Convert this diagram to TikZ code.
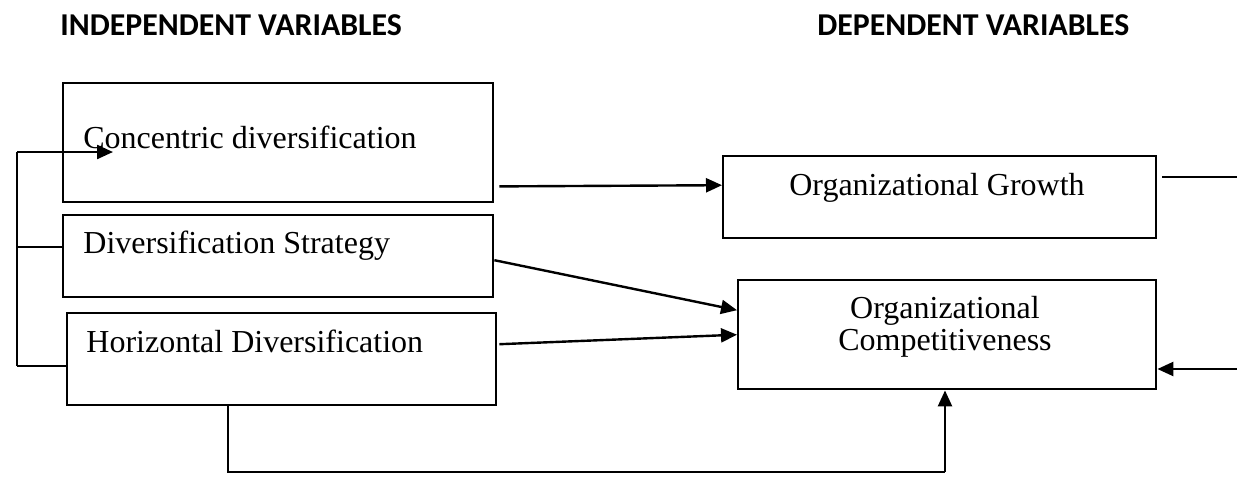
\documentclass[tikz,border=0pt]{standalone}
\usepackage{fontspec}
\setmainfont{Liberation Serif}
\newfontfamily\headfont{Carlito}
\usetikzlibrary{arrows.meta}
\tikzset{
  varbox/.style={draw,line width=1.2pt,anchor=north west,inner sep=0pt},
  boxtext/.style={font=\fontsize{16}{15.5}\selectfont,inner sep=0pt},
  headtext/.style={font=\headfont\bfseries\fontsize{15.9}{18}\selectfont,anchor=west,inner sep=0pt},
  arr/.style={line width=1.2pt,-{Triangle[length=8pt,width=7pt]}},
  link/.style={line width=1.2pt}
}
\begin{document}
\begin{tikzpicture}[x=0.5pt,y=-0.5pt]
  \useasboundingbox (0,0) rectangle (1237,477);
  % headings
  \node[headtext] (indep) at (60,25) {INDEPENDENT VARIABLES};
  \node[headtext] (dep) at (817,25) {DEPENDENT VARIABLES};
  % boxes
  \node[varbox,minimum width=215pt,minimum height=59.5pt] (conc) at (62,82) {};
  \node[varbox,minimum width=215pt,minimum height=41pt] (strat) at (62,214) {};
  \node[varbox,minimum width=214.5pt,minimum height=46pt] (horiz) at (66,312) {};
  \node[varbox,minimum width=216.5pt,minimum height=41pt] (growth) at (722,155) {};
  \node[varbox,minimum width=209pt,minimum height=54.5pt] (compet) at (737,279) {};
  % texts
  \node[boxtext,anchor=base west] (concT) at (83,148) {Concentric diversification};
  \node[boxtext,anchor=base west] (stratT) at (83,253) {Diversification Strategy};
  \node[boxtext,anchor=base west] (horizT) at (86,352) {Horizontal Diversification};
  \node[boxtext,anchor=base] (growthT) at (937,195) {Organizational Growth};
  \node[boxtext,align=center,font=\fontsize{16}{16}\selectfont] (competT) at (945,327) {Organizational\\Competitiveness};
  % bracket on the left
  \coordinate (brtop) at (17,152);
  \coordinate (brmid) at (17,247);
  \coordinate (brbot) at (17,366);
  \coordinate (concin) at (113,152);
  \draw[link] (brtop) -- (brbot);
  \draw[arr] (brtop) -- (concin);
  \draw[link] (brmid) -- (strat.west |- brmid);
  \draw[link] (brbot) -- (horiz.west |- brbot);
  % arrows to the dependent variables
  \draw[arr] ([xshift=2.5pt,yshift=8.5pt]conc.south east) -- ([yshift=6pt]growth.west);
  \draw[arr] ([yshift=-2pt]strat.east) -- ([yshift=12.25pt]compet.west);
  \draw[arr] ([xshift=1pt,yshift=7.5pt]horiz.east) -- (compet.west);
  % lines on the right
  \coordinate (gout) at (1237,177);
  \coordinate (cin) at (1237,369);
  \draw[link] ([xshift=2.5pt]growth.east |- gout) -- (gout);
  \draw[arr] (cin) -- (compet.east |- cin);
  % loop under the boxes
  \coordinate (loopa) at (228,472);
  \coordinate (loopb) at (945,472);
  \draw[link] (horiz.south -| loopa) -- (loopa) -- (loopb);
  \draw[arr] (loopb) -- (compet.south -| loopb);
\end{tikzpicture}
\end{document}
